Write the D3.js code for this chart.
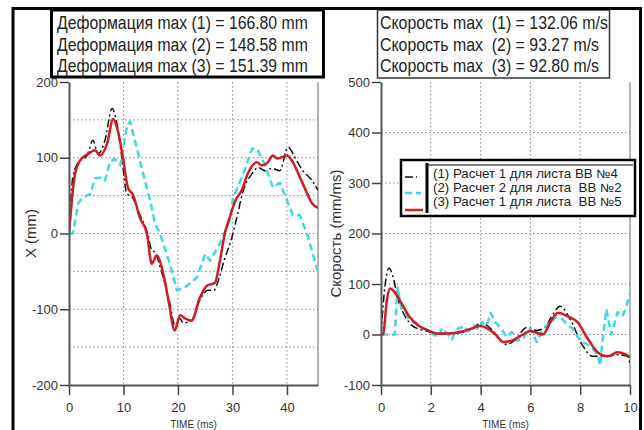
<!DOCTYPE html>
<html><head><meta charset="utf-8">
<script src="https://cdn.jsdelivr.net/npm/d3@7"></script>
<style>
body{margin:0;background:#fff;}
svg{display:block;font-family:"Liberation Sans",Arial,sans-serif;}
text{white-space:pre;}
</style></head>
<body><svg id="c" width="644" height="430"></svg>
<script>
// ---------- DATA ----------
const boxLeftLines = ["Деформация max (1) = 166.80 mm","Деформация max (2) = 148.58 mm","Деформация max (3) = 151.39 mm"];
const boxRightLines = ["Скорость max  (1) = 132.06 m/s","Скорость max  (2) = 93.27 m/s","Скорость max  (3) = 92.80 m/s"];
const legendLabels = ["(1) Расчет 1 для листа ВВ №4","(2) Расчет 2 для листа  ВВ №2","(3) Расчет 1 для листа  ВВ №5"];

const leftXTicks = [0,10,20,30,40];
const leftYTicks = [-200,-100,0,100,200];
const rightXTicks = [0,2,4,6,8,10];
const rightYTicks = [-100,0,100,200,300,400,500];
const xTitle = "TIME (ms)";
const leftYTitle = "X (mm)";
const rightYTitle = "Скорость (mm/ms)";

// Left panel: displacement (mm) vs time (ms)
const defT1 = [0,0.7,1.7,3.3,4.4,5.3,6.6,7.9,8.8,9.7,10.6,11.6,13,14.4,15.2,15.8,17,18.3,19.5,20.3,21,22.5,24,25.5,26.6,27.5,28.5,29.9,30.8,32,33.6,34.7,36,37.2,38.7,40.2,41.5,42.9,44.6,45.7];
const defV1 = [0,74,94,103,123,105,123,165,145,100,53,48,25,0,-22,-25,-51,-85,-122,-112,-118,-115,-88,-75,-75,-60,-35,-5,21,57,79,87,83,86,83,114,100,83,70,57];
const defT2 = [0,0.7,1.7,2.6,3.9,4.8,6.1,6.6,7.5,8.4,9.4,10.6,11.2,12.1,13.6,14.9,15.8,16.7,18.5,19.8,21.3,23.5,25,25.9,27.7,29.5,30.1,32,33.6,34.5,36,37.4,38.7,40,41.1,42.4,43.9,45.7];
const defV2 = [0,0,40,48,52,73,74,70,94,99,90,140,148,123,79,44,13,0,-40,-75,-71,-58,-27,-36,-13,17,47,79,112,112,90,61,67,44,24,24,-5,-51];
const defT3 = [0,1.1,2,3.5,4.8,5.7,7,8.1,8.8,9.9,10.8,11.8,13,14.3,15.2,16.1,17.3,18.3,19.4,20.4,21.3,22.5,24,25.3,26.8,27.6,28.6,29.5,30.5,31.7,32.8,34.5,35.4,36.5,37.4,38.3,40,41.1,42.4,43.7,44.6,45.7];
const defV3 = [0,79,96,105,110,103,119,151,140,100,61,50,21,0,-40,-29,-53,-90,-128,-108,-112,-115,-85,-69,-65,-40,0,21,43,57,79,94,90,94,103,99,103,94,74,53,40,34];

// Right panel: velocity (mm/ms) vs time (ms)
const velT1 = [0,0.16,0.32,0.48,0.68,0.96,1.24,1.5,1.9,2.3,2.8,3.3,3.7,4.0,4.4,4.7,5.05,5.4,5.85,6.25,6.6,6.9,7.2,7.6,8.1,8.5,9.1,9.5,9.9,10];
const velV1 = [0,96,131,115,70,37,18,11,6,1,2,5,12,23,12,-5,-20,-10,14,8,15,40,56,30,-22,-43,-43,-40,-43,-58];
const velT2 = [0,0.56,0.62,0.68,0.76,0.84,0.95,1.1,1.3,1.5,1.7,1.9,2.1,2.3,2.45,2.6,2.85,3.0,3.1,3.35,3.5,3.75,3.9,4.05,4.25,4.4,4.6,4.85,5.05,5.25,5.45,5.7,5.85,6.0,6.25,6.45,6.65,6.85,7.05,7.3,7.5,7.7,7.9,8.1,8.3,8.5,8.7,8.8,8.9,9.05,9.25,9.5,9.7,9.85,10];
const velV2 = [0,0,60,93,65,50,45,32,25,18,12,8,0,-5,12,5,-10,8,12,16,6,18,10,24,18,43,24,10,-5,5,-12,-10,8,12,-15,5,18,25,36,30,18,12,-5,-15,-20,-28,-40,-62,-10,50,0,44,36,55,82];
const velT3 = [0,0.08,0.24,0.36,0.56,0.84,1.16,1.5,1.9,2.25,2.7,3.25,3.65,4.0,4.3,4.6,4.9,5.4,5.7,6.0,6.5,6.8,7.1,7.5,7.9,8.3,8.7,9.1,9.5,9.8,10];
const velV3 = [0,0,70,91,83,60,34,18,8,2,2,6,12,17,11,0,-15,-9,0,7,0,24,43,36,24,-8,-35,-43,-35,-39,-45];

// ---------- STYLE ----------
const seriesStyle = [
  {color:"#111", width:1.5, dash:"8,3,2,3"},
  {color:"#3fd8e0", width:2.5, dash:"7,4"},
  {color:"#d01c22", width:2.5, dash:null}
];

const svg = d3.select("#c");
const zip = (t,v)=>t.map((d,i)=>[d,v[i]]);

function panel(o){
  const x = d3.scaleLinear().domain(o.xDomain).range([o.x0,o.x1]);
  const y = d3.scaleLinear().domain(o.yDomain).range([o.y1,o.y0]);
  const g = svg.append("g");
  g.selectAll(".vg").data(o.xGrid).join("line")
    .attr("x1",d=>x(d)).attr("x2",d=>x(d)).attr("y1",o.y0).attr("y2",o.y1)
    .attr("stroke","#888").attr("stroke-width",1).attr("stroke-dasharray","1.5,2.5");
  g.selectAll(".hg").data(o.yGrid).join("line")
    .attr("y1",d=>y(d)).attr("y2",d=>y(d)).attr("x1",o.x0).attr("x2",o.x1)
    .attr("stroke","#888").attr("stroke-width",1).attr("stroke-dasharray","1.5,2.5");
  g.append("line").attr("x1",o.x1).attr("x2",o.x1).attr("y1",o.y0).attr("y2",o.y1)
    .attr("stroke","#999").attr("stroke-width",1.5);
  const cid = "clip"+o.id;
  svg.append("clipPath").attr("id",cid).append("rect")
    .attr("x",o.x0).attr("y",o.y0).attr("width",o.x1-o.x0).attr("height",o.y1-o.y0);
  const lg = g.append("g").attr("clip-path",`url(#${cid})`);
  o.series.forEach((s,i)=>{
    const st = seriesStyle[i];
    const line = d3.line().x(d=>x(d[0])).y(d=>y(d[1])).curve(s.curve||d3.curveMonotoneX);
    lg.append("path").attr("d",line(s.data)).attr("fill","none")
      .attr("stroke",st.color).attr("stroke-width",st.width)
      .attr("stroke-dasharray",st.dash).attr("stroke-linejoin","round");
  });
  const fmt = d=>String(d);
  const ax = g.append("g").attr("transform",`translate(0,${o.y1})`)
    .call(d3.axisBottom(x).tickValues(o.xTicks).tickFormat(fmt).tickSize(10).tickSizeOuter(0).tickPadding(8));
  const ay = g.append("g").attr("transform",`translate(${o.x0},0)`)
    .call(d3.axisLeft(y).tickValues(o.yTicks).tickFormat(fmt).tickSize(9).tickSizeOuter(0).tickPadding(2));
  [ax,ay].forEach(a=>{
    a.select(".domain").attr("stroke","#555").attr("stroke-width",2);
    a.selectAll(".tick line").attr("stroke","#444").attr("stroke-width",1.5);
    a.selectAll(".tick text").attr("fill","#333").style("font-size","13px")
      .style("font-family","'Liberation Sans',Arial,sans-serif");
  });
  g.append("text").attr("x",(o.x0+o.x1)/2).attr("y",427.5).attr("text-anchor","middle")
    .attr("fill","#333").style("font-size","10px").text(xTitle);
  g.append("text").attr("transform",`translate(${o.yTitleX},${(o.y0+o.y1)/2}) rotate(-90)`)
    .attr("text-anchor","middle").attr("fill","#333").style("font-size","15px").text(o.yTitle);
}

panel({id:"L", x0:69, x1:318, y0:82, y1:385, xDomain:[0,45.7], yDomain:[-200,200],
  xGrid:[10,20,30,40], yGrid:[-150,-100,-50,0,50,100,150], xTicks:leftXTicks, yTicks:leftYTicks,
  yTitle:leftYTitle, yTitleX:36,
  series:[{data:zip(defT1,defV1)},{data:zip(defT2,defV2),curve:d3.curveLinear},{data:zip(defT3,defV3)}]});

panel({id:"R", x0:381, x1:630, y0:82, y1:385, xDomain:[0,10], yDomain:[-100,500],
  xGrid:[2,4,6,8], yGrid:[0,100,200,300,400], xTicks:rightXTicks, yTicks:rightYTicks,
  yTitle:rightYTitle, yTitleX:341,
  series:[{data:zip(velT1,velV1)},{data:zip(velT2,velV2),curve:d3.curveLinear},{data:zip(velT3,velV3)}]});

// ---------- text boxes ----------
function textBox(lines, bx, by, bw, bh, stroke, sw, tx, baselines, fs, targetW){
  svg.append("rect").attr("x",bx).attr("y",by).attr("width",bw).attr("height",bh)
    .attr("fill","#fff").attr("stroke",stroke).attr("stroke-width",sw);
  const g = svg.append("g");
  const texts = g.selectAll("text").data(lines).join("text")
    .attr("x",0).attr("y",(d,i)=>baselines[i]).attr("fill","#222")
    .style("font-size",fs+"px").text(d=>d);
  const w = texts.nodes()[0].getComputedTextLength();
  const k = targetW / w;
  g.attr("transform",`translate(${tx},0) scale(${k},1)`);
}
textBox(boxLeftLines, 51.5, 10, 272, 67, "#000", 3, 57, [29,51,72.5], 17.5, 251);
textBox(boxRightLines, 377.5, 10, 232, 68, "#333", 1.5, 380, [29,51,72.5], 17.5, 228);

// ---------- legend ----------
const leg = svg.append("g");
leg.append("rect").attr("x",401).attr("y",160).attr("width",234).attr("height",56)
  .attr("fill","#fff").attr("stroke","#000").attr("stroke-width",2.5);
leg.append("line").attr("x1",427).attr("x2",427).attr("y1",163).attr("y2",213)
  .attr("stroke","#000").attr("stroke-width",3);
leg.append("line").attr("x1",427).attr("x2",633).attr("y1",165).attr("y2",165)
  .attr("stroke","#000").attr("stroke-width",1.2);
const symY = [177,193,210];
legendLabels.forEach((d,i)=>{
  const st = seriesStyle[i];
  leg.append("line").attr("x1",405).attr("x2",i===0?417:(i===1?421:423)).attr("y1",symY[i]).attr("y2",symY[i])
    .attr("stroke",st.color).attr("stroke-width",st.width)
    .attr("stroke-dasharray",st.dash);
});
const lgt = leg.append("g");
const lt = lgt.selectAll("text").data(legendLabels).join("text")
  .attr("x",0).attr("y",(d,i)=>[178.5,192.3,206.1][i]).attr("fill","#222")
  .style("font-size","12px").text(d=>d);
const lw = lt.nodes()[0].getComputedTextLength();
lgt.attr("transform",`translate(433,0) scale(${185/lw},1)`);

// ---------- outer frame ----------
svg.append("path").attr("d","M13,432 L13,8.5 L640.5,8.5 L640.5,432")
  .attr("fill","none").attr("stroke","#000").attr("stroke-width",3);
</script></body></html>
